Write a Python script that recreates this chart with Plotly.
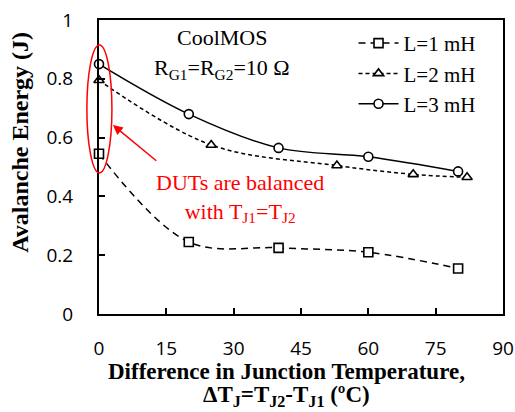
import plotly.graph_objects as go

# Data
x_L1 = [0, 20, 40, 60, 80]
y_L1 = [0.545, 0.245, 0.225, 0.21, 0.155]
x_L2 = [0, 25, 53, 70, 82]
y_L2 = [0.795, 0.575, 0.505, 0.475, 0.465]
x_L3 = [0, 20, 40, 60, 80]
y_L3 = [0.85, 0.68, 0.565, 0.535, 0.485]
series_names = ["L=1 mH", "L=2 mH", "L=3 mH"]
x_ticks = [0, 15, 30, 45, 60, 75, 90]
y_ticks = [0, 0.2, 0.4, 0.6, 0.8, 1]

serif = "Liberation Serif, Times New Roman, serif"
sans = "Open Sans, sans-serif"

fig = go.Figure()
styles = [
    (x_L1, y_L1, "square", "7px,5px"),
    (x_L2, y_L2, "triangle-up", "4px,3px"),
    (x_L3, y_L3, "circle", "solid"),
]
for (xs, ys, sym, dash), name in zip(styles, series_names):
    fig.add_trace(go.Scatter(
        x=xs, y=ys, name=name, mode="lines+markers",
        line=dict(color="black", width=1.5, dash=dash, shape="spline", smoothing=1),
        marker=dict(symbol=sym, size=9, color="white", line=dict(color="black", width=1.6)),
        cliponaxis=False,
    ))

fig.update_layout(
    width=515, height=412,
    margin=dict(l=99, r=12, t=20, b=98, autoexpand=False),
    paper_bgcolor="white", plot_bgcolor="white",
    showlegend=True,
    legend=dict(x=0.63, y=0.99, xanchor="left", yanchor="top",
                font=dict(family=serif, size=21, color="black"),
                bgcolor="rgba(0,0,0,0)", tracegroupgap=0, itemwidth=40),
    xaxis=dict(range=[0, 90], tickvals=x_ticks, ticktext=[str(v) for v in x_ticks],
               ticks="inside", ticklen=6, tickwidth=2, tickcolor="black",
               showline=True, linecolor="black", linewidth=2, mirror=True,
               showgrid=False, zeroline=False, ticklabelstandoff=16, automargin=False,
               tickfont=dict(family=sans, size=19, color="black")),
    yaxis=dict(range=[0, 1], tickvals=y_ticks, ticktext=["0", "0.2", "0.4", "0.6", "0.8", "1"],
               ticks="inside", ticklen=6, tickwidth=2, tickcolor="black",
               showline=True, linecolor="black", linewidth=2, mirror=True,
               showgrid=False, zeroline=False, ticklabelstandoff=20, automargin=False,
               tickfont=dict(family=sans, size=19, color="black")),
)

# Axis titles
fig.add_annotation(text="<b>Avalanche Energy (J)</b>", xref="paper", yref="paper",
                   x=-0.196, y=0.585, textangle=-90, showarrow=False,
                   xanchor="center", yanchor="middle",
                   font=dict(family=serif, size=24, color="black"))
fig.add_annotation(text="<b>Difference in Junction Temperature,</b>", xref="paper", yref="paper",
                   x=0.465, y=-0.195, showarrow=False, xanchor="center", yanchor="middle",
                   font=dict(family=serif, size=23, color="black"))
fig.add_annotation(text="<b>ΔT<sub>J</sub>=T<sub>J2</sub>-T<sub>J1</sub> (ºC)</b>", xref="paper", yref="paper",
                   x=0.465, y=-0.28, showarrow=False, xanchor="center", yanchor="middle",
                   font=dict(family=serif, size=23, color="black"))

# Text labels
fig.add_annotation(text="CoolMOS", x=27.5, y=0.94, xref="x", yref="y", showarrow=False,
                   xanchor="center", yanchor="middle",
                   font=dict(family=serif, size=22, color="black"))
fig.add_annotation(text="R<sub>G1</sub>=R<sub>G2</sub>=10 Ω", x=27.5, y=0.835, xref="x", yref="y",
                   showarrow=False, xanchor="center", yanchor="middle",
                   font=dict(family=serif, size=22, color="black"))
fig.add_annotation(text="DUTs are balanced<br>with T<sub>J1</sub>=T<sub>J2</sub>", x=31.5, y=0.393,
                   xref="x", yref="y", showarrow=False, align="center",
                   xanchor="center", yanchor="middle",
                   font=dict(family=serif, size=22, color="red"))
# Arrow
fig.add_annotation(text="", x=3.1, y=0.643, xref="x", yref="y",
                   ax=13.1, ay=0.517, axref="x", ayref="y",
                   showarrow=True, arrowhead=2, arrowsize=1.3, arrowwidth=1.5, arrowcolor="red")
# Ellipse
fig.add_shape(type="circle", xref="paper", yref="y",
              x0=-0.03, x1=0.032, y0=0.48, y1=0.915,
              line=dict(color="red", width=1.5))

fig.write_html("out.html")
